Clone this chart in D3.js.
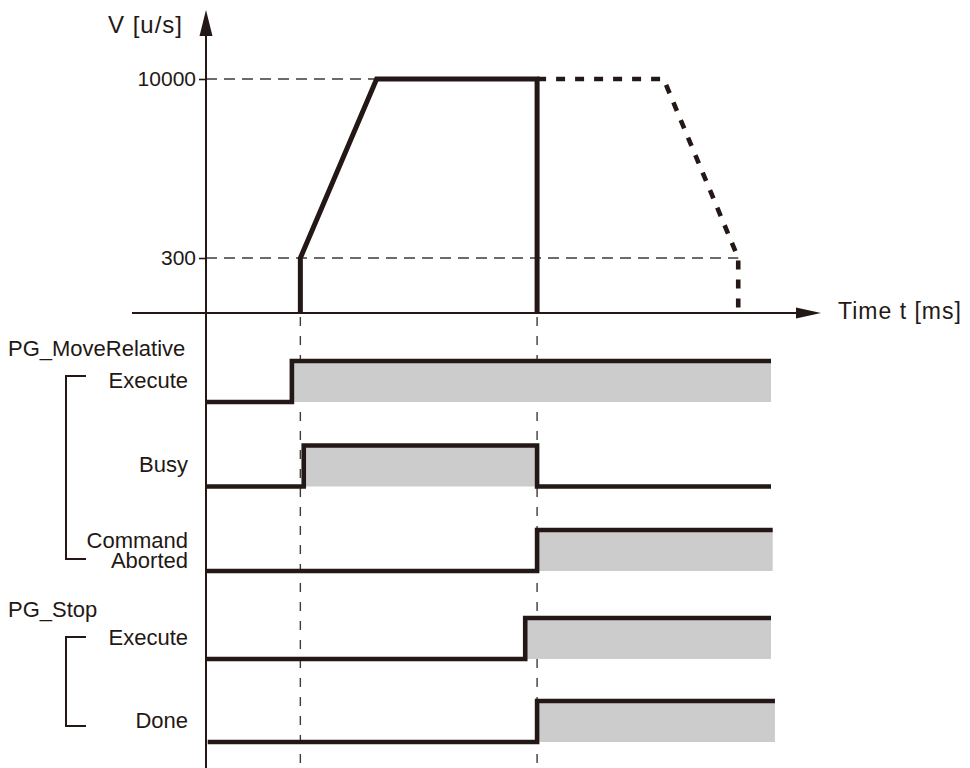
<!DOCTYPE html>
<html>
<head>
<meta charset="utf-8">
<script src="https://cdn.jsdelivr.net/npm/d3@7"></script>
<style>
	body { margin: 0; background: #fff; }
	svg text { font-family: "Liberation Sans", Arial, Helvetica, sans-serif; fill: #231815; }
</style>
</head>
<body>
<svg id="timing-chart"></svg>
<script>
// velocity tick values
var speedTicks = [300, 10000];

// velocity profile (time units, u/s)
var actualTime = [16.7, 16.7, 30.2, 58.6, 58.6];
var actualSpeed = [0, 300, 10000, 10000, 0];
var plannedTime = [58.6, 81.0, 94.2, 94.2];
var plannedSpeed = [10000, 10000, 300, 0];

// marker times for the vertical dashed lines
var markerTimes = [16.7, 58.6];

// signal rows: names, and [time, level] steps
var groupNames = ["PG_MoveRelative", "PG_Stop"];
var signalNames = ["Execute", "Busy", "Command\nAborted", "Execute", "Done"];
var signalSteps = [
	[[0, 0], [15.2, 1], [100, 1]],
	[[0, 0], [17.3, 1], [58.6, 0], [100, 0]],
	[[0, 0], [58.6, 1], [100.3, 1]],
	[[0, 0], [56.5, 1], [100, 1]],
	[[0.3, 0], [58.6, 1], [100.7, 1]]
];

(function () {
	var width = 970, height = 768,
			ink = "#231815",
			axisX = 206, axisY = 313;

	var svg = d3.select("svg#timing-chart")
			.attr("width", width)
			.attr("height", height);

	// set the ranges
	var x = d3.scaleLinear()
			.domain([0, 100])
			.range([axisX, 771]);

	// the speed axis is not to scale, so use a piecewise scale
	var y = d3.scaleLinear()
			.domain([0, 300, 10000])
			.range([axisY, 258, 79]);

	var rowY = d3.scaleLinear()
			.domain([0, 2, 3, 4])
			.range([402, 571, 659, 742]);
	var levelH = 41;

	//Thin dashed guide lines
	svg.selectAll(".guide-h")
			.data([[10000, 58.6], [300, 94.2]])
			.enter().append("line")
			.attr("class", "guide-h")
			.attr("x1", axisX)
			.attr("x2", function (d) { return x(d[1]); })
			.attr("y1", function (d) { return y(d[0]); })
			.attr("y2", function (d) { return y(d[0]); })
			.attr("stroke", "#3e3a39")
			.attr("stroke-width", 1.4)
			.attr("stroke-dasharray", "11,7");

	svg.selectAll(".guide-v")
			.data(markerTimes)
			.enter().append("line")
			.attr("class", "guide-v")
			.attr("x1", function (d) { return x(d); })
			.attr("x2", function (d) { return x(d); })
			.attr("y1", axisY + 4)
			.attr("y2", height)
			.attr("stroke", "#3e3a39")
			.attr("stroke-width", 1.4)
			.attr("stroke-dasharray", "9,10");

	//Speed axis
	var yAxis = d3.axisLeft(y)
			.tickValues(speedTicks)
			.tickFormat(d3.format("d"))
			.tickSizeInner(7)
			.tickSizeOuter(0)
			.tickPadding(3);
	var gy = svg.append("g")
			.attr("transform", "translate(" + axisX + ",0)")
			.call(yAxis);
	gy.select(".domain").remove();
	gy.selectAll("line").attr("stroke", ink).attr("stroke-width", 1.6);
	gy.selectAll("text")
			.style("font-size", "21px")
			.attr("fill", ink);

	svg.append("line")
			.attr("x1", axisX).attr("x2", axisX)
			.attr("y1", 30).attr("y2", height)
			.attr("stroke", ink)
			.attr("stroke-width", 2);
	svg.append("path")
			.attr("d", "M" + axisX + ",10L" + (axisX - 6.5) + ",36L" + (axisX + 6.5) + ",36Z")
			.attr("fill", ink);

	//Time axis
	svg.append("line")
			.attr("x1", 132).attr("x2", 800)
			.attr("y1", axisY).attr("y2", axisY)
			.attr("stroke", ink)
			.attr("stroke-width", 2);
	svg.append("path")
			.attr("d", "M821," + axisY + "L796," + (axisY - 5.5) + "L796," + (axisY + 5.5) + "Z")
			.attr("fill", ink);

	svg.append("text")
			.attr("x", 183)
			.attr("y", 33)
			.attr("text-anchor", "end")
			.style("font-size", "24px")
			.style("letter-spacing", "1px")
			.text("V [u/s]");
	svg.append("text")
			.attr("x", 838)
			.attr("y", 319)
			.style("font-size", "23px")
			.style("letter-spacing", "1px")
			.text("Time t [ms]");

	//Velocity profile
	var vLine = d3.line()
			.x(function (d) { return x(d[0]); })
			.y(function (d) { return y(d[1]); });

	svg.append("path")
			.datum(plannedTime.map(function (t, i) { return [t, plannedSpeed[i]]; }))
			.attr("d", vLine)
			.attr("fill", "none")
			.attr("stroke", ink)
			.attr("stroke-width", 4.6)
			.attr("stroke-dasharray", "9,10");

	svg.append("path")
			.datum(actualTime.map(function (t, i) { return [t, actualSpeed[i]]; }))
			.attr("d", vLine)
			.attr("fill", "none")
			.attr("stroke", ink)
			.attr("stroke-width", 5)
			.attr("stroke-linejoin", "miter");

	//Signal rows
	var rows = svg.selectAll(".signal")
			.data(signalSteps)
			.enter().append("g")
			.attr("class", "signal");

	rows.append("path")
			.attr("d", function (d, i) {
				var low = rowY(i);
				return d3.area()
						.curve(d3.curveStepAfter)
						.x(function (p) { return x(p[0]); })
						.y0(low)
						.y1(function (p) { return low - p[1] * levelH; })(d);
			})
			.attr("fill", "#cccccc");

	rows.append("path")
			.attr("d", function (d, i) {
				var low = rowY(i);
				return d3.line()
						.curve(d3.curveStepAfter)
						.x(function (p) { return x(p[0]); })
						.y(function (p) { return low - p[1] * levelH; })(d);
			})
			.attr("fill", "none")
			.attr("stroke", ink)
			.attr("stroke-width", 4.6)
			.attr("stroke-linejoin", "miter");

	//Row labels
	rows.append("text")
			.attr("text-anchor", "end")
			.attr("x", 188)
			.attr("y", function (d, i) {
				return rowY(i) - (signalNames[i].indexOf("\n") > -1 ? 23 : 14.5);
			})
			.style("font-size", "22px")
			.each(function (d, i) {
				var lines = signalNames[i].split("\n");
				d3.select(this).selectAll("tspan")
						.data(lines)
						.enter().append("tspan")
						.attr("x", 188)
						.attr("dy", function (l, j) { return j ? 20 : 0; })
						.text(function (l) { return l; });
			});

	//Group labels and brackets
	var groups = [
		{ name: groupNames[0], base: 356, top: 376, bottom: 559 },
		{ name: groupNames[1], base: 617, top: 637, bottom: 726 }
	];
	svg.selectAll(".group-label")
			.data(groups)
			.enter().append("text")
			.attr("class", "group-label")
			.attr("x", 8)
			.attr("y", function (d) { return d.base; })
			.style("font-size", "22px")
			.text(function (d) { return d.name; });

	svg.selectAll(".bracket")
			.data(groups)
			.enter().append("path")
			.attr("class", "bracket")
			.attr("d", function (d) {
				return "M86," + d.top + "H66V" + d.bottom + "H86";
			})
			.attr("fill", "none")
			.attr("stroke", ink)
			.attr("stroke-width", 2);
})();
</script>
</body>
</html>
